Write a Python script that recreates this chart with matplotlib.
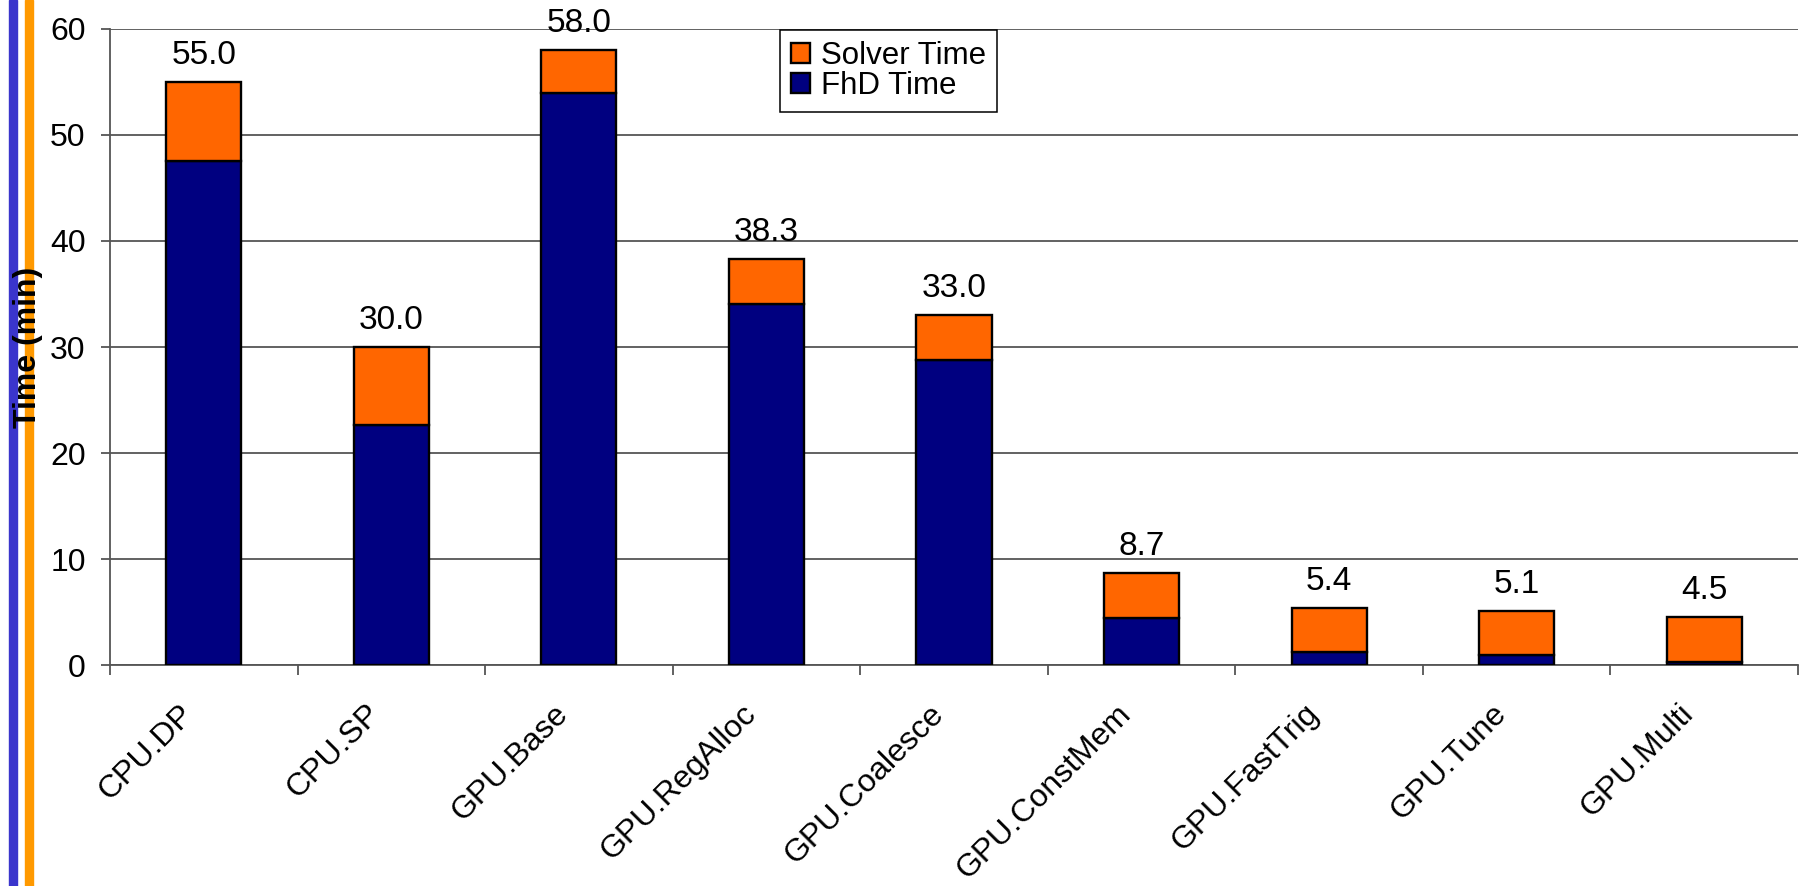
import numpy as np
import matplotlib
import matplotlib.pyplot as plt
from matplotlib.patches import Rectangle
from matplotlib.transforms import ScaledTranslation

matplotlib.rcParams.update({"font.family": ["Liberation Sans", "DejaVu Sans"]})

configs = ["CPU.DP", "CPU.SP", "GPU.Base", "GPU.RegAlloc", "GPU.Coalesce",
           "GPU.ConstMem", "GPU.FastTrig", "GPU.Tune", "GPU.Multi"]
total_time = [55.0, 30.0, 58.0, 38.3, 33.0, 8.7, 5.4, 5.1, 4.5]
fhd_time = [47.5, 22.6, 54.0, 34.1, 28.8, 4.4, 1.2, 0.9, 0.3]
solver_time = [t - f for t, f in zip(total_time, fhd_time)]

fig = plt.figure(figsize=(18, 8.86), dpi=100)
ax = fig.add_axes([0.0611, 0.2494, 0.9378, 0.7179])

# slide border stripes, kept underneath the axes and its labels
fig.patches.append(Rectangle((9 / 1800, 0), 8 / 1800, 1, transform=fig.transFigure,
                             color="#3a35cc", zorder=-2))
fig.patches.append(Rectangle((25 / 1800, 0), 8 / 1800, 1, transform=fig.transFigure,
                             color="#ff9900", zorder=-2))

x = np.arange(len(configs))
w = 0.4
ax.bar(x, fhd_time, w, color="#000080", edgecolor="black", linewidth=1.7,
       label="FhD Time", zorder=3)
ax.bar(x, solver_time, w, bottom=fhd_time, color="#ff6600", edgecolor="black",
       linewidth=1.7, label="Solver Time", zorder=3)

for xi, t in zip(x, total_time):
    ax.annotate(f"{t:.1f}", (xi, t), xytext=(0, 8), textcoords="offset points",
                ha="center", va="bottom", fontsize=24)

ax.set_xlim(-0.5, len(configs) - 0.5)
ax.set_ylim(0, 60)
ax.set_yticks(range(0, 61, 10))
ax.yaxis.grid(True, color="#555555", linewidth=1.3, zorder=0)
ax.set_axisbelow(True)
ax.tick_params(axis="y", labelsize=23, length=6.5, width=1.3, color="#555555", pad=11)

ax.set_xticks(x)
ax.set_xticklabels(configs, rotation=45, ha="right", va="center",
                   rotation_mode="anchor", fontsize=23)
ax.tick_params(axis="x", length=0, pad=32)
shift = ScaledTranslation(-15 / 100, 0, fig.dpi_scale_trans)
for lab in ax.get_xticklabels():
    lab.set_transform(lab.get_transform() + shift)
ax.set_xticks(np.arange(-0.5, len(configs), 1), minor=True)
ax.tick_params(axis="x", which="minor", length=7, width=1.3, color="#555555")

for s in ["top", "right"]:
    ax.spines[s].set_visible(False)
for s in ["left", "bottom"]:
    ax.spines[s].set_color("#555555")
    ax.spines[s].set_linewidth(1.3)

ax.set_ylabel("Time (min)", fontsize=23, fontweight="bold")
ax.yaxis.set_label_coords(-0.0395, 0.5)

handles, labels = ax.get_legend_handles_labels()
leg = ax.legend(handles[::-1], labels[::-1], loc="upper left",
                bbox_to_anchor=(0.397, 0.998), fontsize=22.5, frameon=True,
                fancybox=False, edgecolor="black", framealpha=1,
                handlelength=0.62, handleheight=0.62, handletextpad=0.35,
                borderpad=0.35, labelspacing=0.0, borderaxespad=0)
leg.get_frame().set_linewidth(1.1)

fig.savefig("out.png", dpi=100)
